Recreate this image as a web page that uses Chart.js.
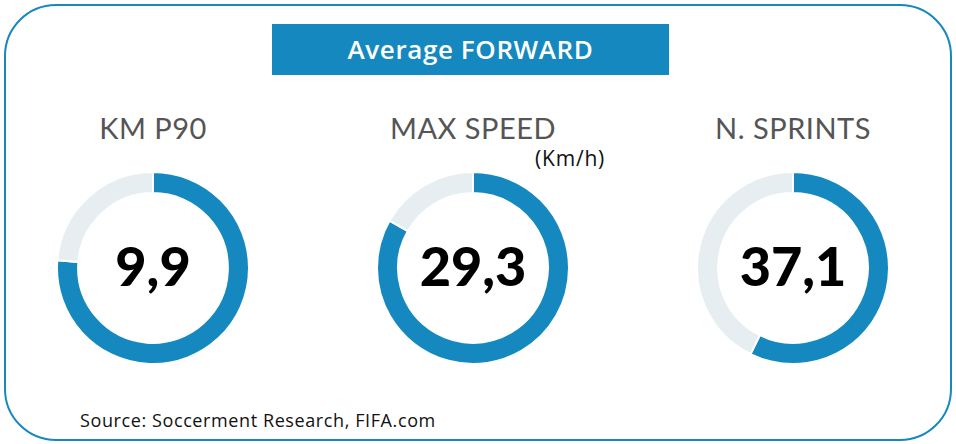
<!DOCTYPE html>
<html>
<head>
<meta charset="utf-8">
<script src="https://cdn.jsdelivr.net/npm/chart.js@4.4.1/dist/chart.umd.min.js"></script>
<style>
  html, body { margin: 0; padding: 0; background: #fff; }
  body { width: 956px; height: 444px; position: relative; overflow: hidden; font-family: 'Open Sans', sans-serif; }
  .frame { position: absolute; left: 4px; top: 4px; width: 944px; height: 433px; border: 2px solid #1788bf; border-radius: 52px; box-sizing: content-box; }
  .title { position: absolute; left: 272px; top: 24px; width: 397px; height: 51px; background: #1589bf; color: #fff;
           font: 600 26px 'Open Sans', sans-serif; line-height: 51px; text-align: center; letter-spacing: 0.6px; }
  .label { position: absolute; width: 260px; text-align: center; color: #555; font: 400 29px 'Lato', sans-serif; letter-spacing: 0.5px; }
  .unit { position: absolute; left: 535px; top: 144px; font: 400 21px 'Open Sans', sans-serif; color: #111; letter-spacing: 0.8px; }
  .donut { position: absolute; width: 194px; height: 194px; }
  .source { position: absolute; left: 80px; top: 408px; font: 400 18px 'Open Sans', sans-serif; color: #111; letter-spacing: 0.6px; }
</style>
</head>
<body>
<div class="frame"></div>
<div class="title">Average FORWARD</div>
<div class="unit">(Km/h)</div>
<div class="source">Source: Soccerment Research, FIFA.com</div>
<script>
// Chart data
const categories = ['KM P90', 'MAX SPEED', 'N. SPRINTS'];
const valueLabels = ['9,9', '29,3', '37,1'];
const filledShare = [76.3, 83.2, 57.3]; // blue part of each ring, in percent

const centers = [153, 473, 793];
const blue = '#1589bf';
const grey = '#e6eef1';

// Draw the big number in the middle of each ring
const centerText = {
  id: 'centerText',
  afterDraw(chart) {
    const arc = chart.getDatasetMeta(0).data[0];
    const ctx = chart.ctx;
    ctx.save();
    ctx.fillStyle = '#000';
    ctx.font = '900 54px "Lato", sans-serif';
    ctx.textAlign = 'center';
    ctx.textBaseline = 'middle';
    ctx.fillText(chart.options.plugins.centerText.text, arc.x, arc.y + 1);
    ctx.restore();
  },
};

categories.forEach((name, i) => {
  const label = document.createElement('div');
  label.className = 'label';
  label.textContent = name;
  label.style.left = centers[i] - 130 + 'px';
  label.style.top = '110px';
  document.body.appendChild(label);

  const box = document.createElement('div');
  box.className = 'donut';
  box.style.left = centers[i] - 97 + 'px';
  box.style.top = '171px';
  const canvas = document.createElement('canvas');
  box.appendChild(canvas);
  document.body.appendChild(box);

  new Chart(canvas.getContext('2d'), {
    type: 'doughnut',
    data: {
      labels: [name, ''],
      datasets: [
        {
          data: [filledShare[i], 100 - filledShare[i]],
          backgroundColor: [blue, grey],
          borderColor: '#fff',
          borderWidth: 2,
          hoverOffset: 0,
        },
      ],
    },
    options: {
      responsive: true,
      maintainAspectRatio: false,
      animation: false,
      cutout: '78%',
      layout: { padding: 0 },
      plugins: {
        legend: { display: false },
        tooltip: { enabled: false },
        centerText: { text: valueLabels[i] },
      },
    },
    plugins: [centerText],
  });
});
</script>
</body>
</html>
